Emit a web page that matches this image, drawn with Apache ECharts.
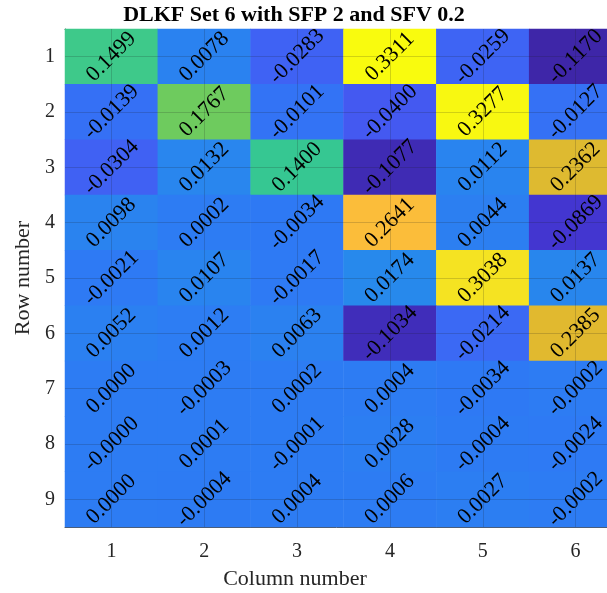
<!DOCTYPE html>
<html>
<head>
<meta charset="utf-8">
<script src="https://cdn.jsdelivr.net/npm/echarts@6/dist/echarts.min.js"></script>
<style>
  html, body { margin: 0; padding: 0; background: #ffffff; }
  #chart { width: 607px; height: 593px; }
</style>
</head>
<body>
<div id="chart"></div>
<script>
// Column and row categories (tick labels)
const columnLabels = ['1', '2', '3', '4', '5', '6'];
const rowLabels = ['1', '2', '3', '4', '5', '6', '7', '8', '9'];

// Matrix values, one array per row (columns 1..6); -0 keeps the "-0.0000" sign
const row1 = [0.1499, 0.0078, -0.0283, 0.3311, -0.0259, -0.1170];
const row2 = [-0.0139, 0.1767, -0.0101, -0.0400, 0.3277, -0.0127];
const row3 = [-0.0304, 0.0132, 0.1400, -0.1077, 0.0112, 0.2362];
const row4 = [0.0098, 0.0002, -0.0034, 0.2641, 0.0044, -0.0869];
const row5 = [-0.0021, 0.0107, -0.0017, 0.0174, 0.3038, 0.0137];
const row6 = [0.0052, 0.0012, 0.0063, -0.1034, -0.0214, 0.2385];
const row7 = [0.0000, -0.0003, 0.0002, 0.0004, -0.0034, -0.0002];
const row8 = [-0, 0.0001, -0.0001, 0.0028, -0.0004, -0.0024];
const row9 = [0.0000, -0.0004, 0.0004, 0.0006, 0.0027, -0.0002];

const matrixRows = [row1, row2, row3, row4, row5, row6, row7, row8, row9];

// Parula-like colormap stops
const parula = [
  '#3e26a8', '#4131c6', '#4741e2', '#4751ef', '#3f63f4', '#2f78f5', '#2789ec',
  '#1d9be3', '#10abd8', '#0ab5c7', '#1bbeb0', '#2ec59b', '#40c988', '#69cb60',
  '#97c84a', '#c2bf3a', '#e6b82d', '#fbbd3a', '#f8cf2e', '#f4e81f', '#f9fb0e'
];

const cells = [];
matrixRows.forEach((vals, r) => {
  vals.forEach((v, c) => cells.push([c, r, v]));
});
const allVals = matrixRows.flat();
const vMin = Math.min(...allVals);
const vMax = Math.max(...allVals);

function fmt(v) {
  const neg = v < 0 || Object.is(v, -0);
  return (neg ? '-' : '') + Math.abs(v).toFixed(4);
}

const serif = 'Liberation Serif, Times New Roman, serif';
const axisColor = '#555555';
const gridLineStyle = { color: 'rgba(30,30,30,0.18)', width: 1, type: 'solid' };

const chart = echarts.init(document.getElementById('chart'), null, { renderer: 'canvas' });

chart.setOption({
  backgroundColor: '#ffffff',
  animation: false,
  // the axes box runs past the right edge of the canvas
  grid: { left: 65, top: 29, width: 557, height: 498, containLabel: false, outerBoundsMode: 'none' },
  xAxis: [
    {
      type: 'category',
      data: columnLabels,
      position: 'bottom',
      axisLine: { show: true, lineStyle: { color: axisColor, width: 1 } },
      axisTick: { show: true, inside: true, alignWithLabel: true, length: 5, lineStyle: { color: axisColor } },
      axisLabel: { show: true, fontFamily: serif, fontSize: 20, color: '#262626', margin: 15 },
      splitLine: { show: false }
    },
    {
      type: 'category',
      data: columnLabels,
      position: 'top',
      axisLine: { show: true, lineStyle: { color: axisColor, width: 1 } },
      axisTick: { show: true, inside: true, alignWithLabel: true, length: 5, lineStyle: { color: axisColor } },
      axisLabel: { show: false },
      splitLine: { show: false }
    }
  ],
  yAxis: {
    type: 'category',
    data: rowLabels,
    inverse: true,
    name: 'Row number',
    nameLocation: 'middle',
    nameGap: 29,
    nameTextStyle: { fontFamily: serif, fontSize: 22, color: '#262626' },
    axisLine: { show: true, lineStyle: { color: axisColor, width: 1 } },
    axisTick: { show: true, inside: true, alignWithLabel: true, length: 5, lineStyle: { color: axisColor } },
    axisLabel: { show: true, fontFamily: serif, fontSize: 20, color: '#262626', margin: 10 },
    splitLine: { show: false }
  },
  visualMap: {
    show: false,
    type: 'continuous',
    min: vMin,
    max: vMax,
    dimension: 2,
    inRange: { color: parula }
  },
  graphic: [
    {
      type: 'text',
      x: 294, y: 15,
      style: {
        text: 'DLKF Set 6 with SFP 2 and SFV 0.2',
        textAlign: 'center', textVerticalAlign: 'middle',
        fontFamily: serif, fontSize: 22, fontWeight: 'bold', fill: '#000000'
      }
    },
    {
      type: 'text',
      x: 295, y: 579,
      style: {
        text: 'Column number',
        textAlign: 'center', textVerticalAlign: 'middle',
        fontFamily: serif, fontSize: 22, fill: '#262626'
      }
    }
  ],
  series: [
    {
      type: 'heatmap',
      xAxisIndex: 0,
      yAxisIndex: 0,
      data: cells,
      itemStyle: { borderWidth: 0 },
      label: {
        show: true,
        rotate: 45,
        fontFamily: serif,
        fontSize: 22,
        color: '#000000',
        formatter: p => fmt(p.value[2])
      },
      emphasis: { disabled: true },
      markLine: {
        silent: true,
        symbol: ['none', 'none'],
        label: { show: false },
        lineStyle: gridLineStyle,
        data: columnLabels.map(c => ({ xAxis: c })).concat(rowLabels.map(r => ({ yAxis: r })))
      }
    }
  ]
});
</script>
</body>
</html>
